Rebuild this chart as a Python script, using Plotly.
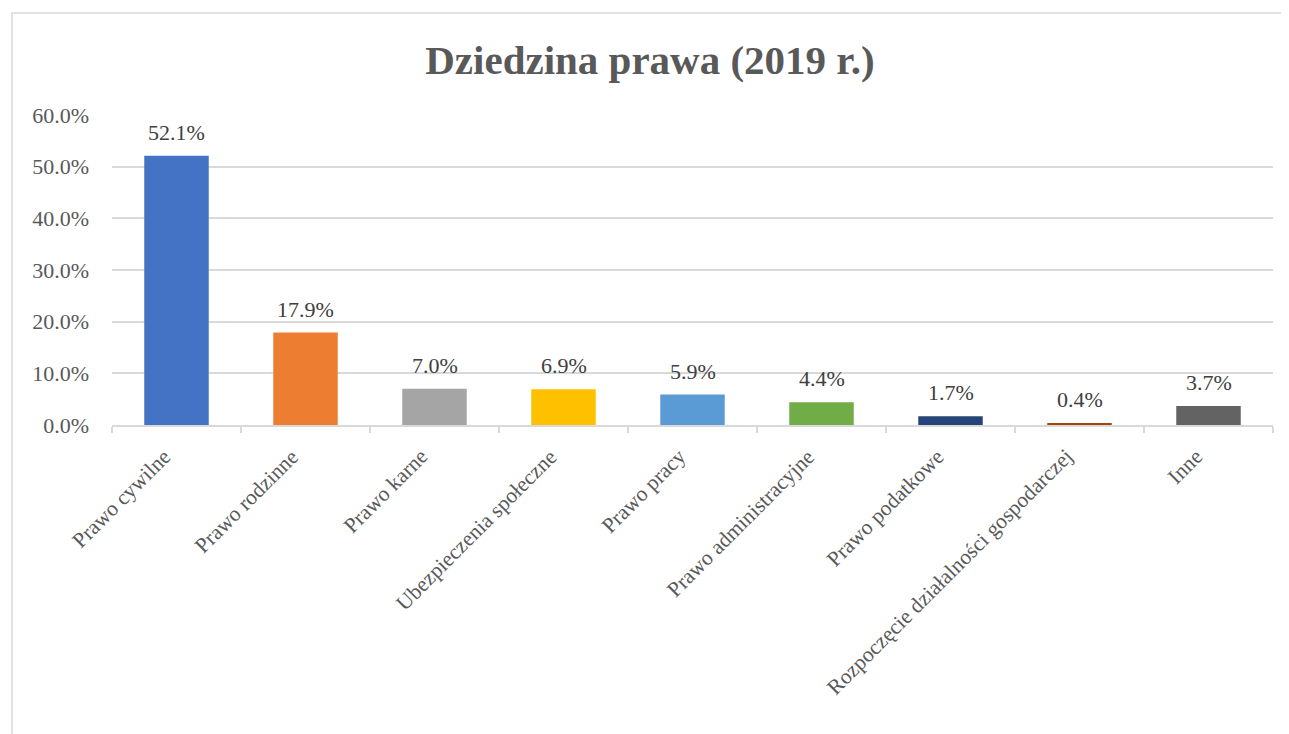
import plotly.graph_objects as go

categories = ["Prawo cywilne", "Prawo rodzinne", "Prawo karne", "Ubezpieczenia społeczne",
              "Prawo pracy", "Prawo administracyjne", "Prawo podatkowe",
              "Rozpoczęcie działalności gospodarczej", "Inne"]
values = [0.521, 0.179, 0.070, 0.069, 0.059, 0.044, 0.017, 0.004, 0.037]
colors = ["#4472C4", "#ED7D31", "#A5A5A5", "#FFC000", "#5B9BD5",
          "#70AD47", "#264478", "#9E480E", "#636363"]
y_ticks = [0, 0.1, 0.2, 0.3, 0.4, 0.5, 0.6]

# page body has an 8px margin; figure coordinates are offset by 8px
OFF = 8
W, H = 1289, 734
L, T = 112 - OFF, 115 - OFF
R = W - (1273 - OFF)
B = H - (425 - OFF)
pw, ph = W - L - R, H - T - B

fig = go.Figure(go.Bar(
    x=categories, y=values,
    marker=dict(color=colors, line=dict(width=0)),
    hoverinfo="x+y",
))

for c, v in zip(categories, values):
    fig.add_annotation(x=c, y=v, text=f"{v*100:.1f}%", showarrow=False,
                       yanchor="bottom", yshift=9,
                       font=dict(family="Liberation Serif", size=22, color="#404040"))

# rotated category labels
for c in categories:
    fig.add_annotation(x=c, y=0, text=c, showarrow=False, textangle=-45,
                       xanchor="right", yanchor="top", xshift=1, yshift=-17,
                       font=dict(family="Liberation Serif", size=21.5, color="#595959"))

fig.update_layout(
    width=W, height=H,
    margin=dict(l=L, r=R, t=T, b=B),
    paper_bgcolor="white", plot_bgcolor="white",
    bargap=0.5,
    showlegend=False,
    font=dict(family="Liberation Serif", color="#595959"),
    title=dict(text="<b>Dziedzina prawa (2019 r.)</b>", x=(650 - OFF) / W, xanchor="center",
               y=1 - (60 - OFF) / H, yanchor="middle",
               font=dict(family="Liberation Serif", size=41, color="#595959")),
    xaxis=dict(
        range=[-0.5, len(categories) - 0.5], autorange=False,
        showticklabels=False,
        showline=True, linecolor="#D9D9D9", linewidth=1.5,
        ticks="outside", tickson="boundaries", ticklen=6, tickcolor="#D9D9D9", tickwidth=1.5,
        showgrid=False,
    ),
    yaxis=dict(
        range=[0, 0.6], autorange=False, tickvals=y_ticks, tickformat=".1%",
        tickfont=dict(size=22, color="#595959"),
        gridcolor="#D9D9D9", gridwidth=1.5,
        zeroline=False, showline=False, ticklabelstandoff=22,
    ),
    shapes=[dict(type="rect", xref="paper", yref="paper",
                 x0=(12 - OFF - L) / pw, x1=(W + 40 - L) / pw,
                 y0=(H - B - (H + 40)) / ph, y1=(H - B - (13 - OFF)) / ph,
                 line=dict(color="#D9D9D9", width=1.5), layer="below")],
)

fig.write_html("out.html")
